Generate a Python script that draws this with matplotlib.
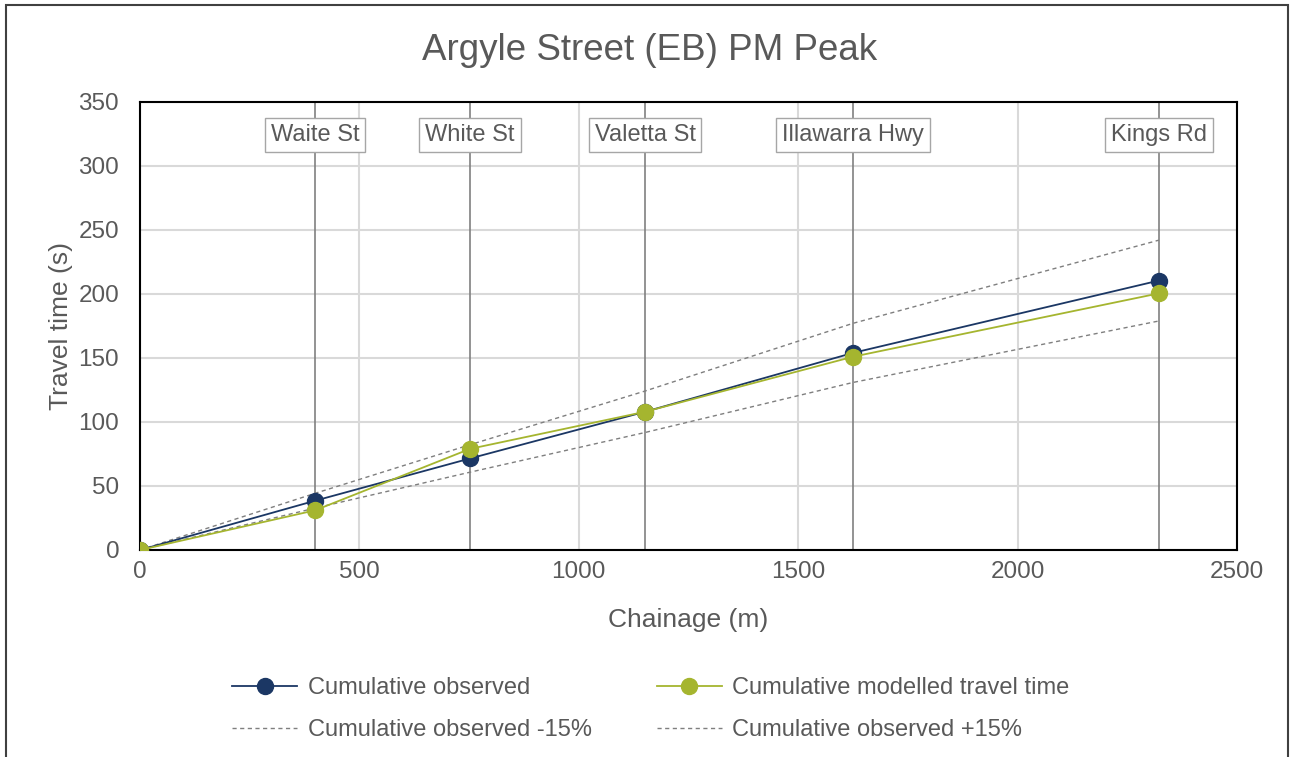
import matplotlib
matplotlib.use("Agg")
import matplotlib.pyplot as plt
from matplotlib.patches import Rectangle
import numpy as np

plt.rcParams['font.family'] = ['Liberation Sans', 'DejaVu Sans']

chainage = [0, 399, 752, 1151, 1625, 2322]
observed = [0, 38.5, 71.5, 108, 154, 210.5]
modelled = [0, 31, 79, 108, 151, 200.5]
intersections = ["Waite St", "White St", "Valetta St", "Illawarra Hwy", "Kings Rd"]
intersection_x = [399, 752, 1151, 1625, 2322]
label_y = 324

obs = np.array(observed)
lower = obs * 0.85
upper = obs * 1.15

TEXT = '#595959'
NAVY = '#1b3764'
GREEN = '#a5b52f'

fig = plt.figure(figsize=(12.93, 7.57), dpi=100)
ax = fig.add_axes([140/1293, 1 - 550/757, (1237-140)/1293, (550-102)/757])

ax.set_xlim(0, 2500)
ax.set_ylim(0, 350)
ax.set_xticks(np.arange(0, 2501, 500))
ax.set_yticks(np.arange(0, 351, 50))
ax.grid(True, color='#d9d9d9', linewidth=1.5)
ax.set_axisbelow(True)
for s in ax.spines.values():
    s.set_color('black')
    s.set_linewidth(1.5)
ax.tick_params(length=0, labelsize=17.5, colors=TEXT)
ax.tick_params(axis='y', pad=15)
ax.tick_params(axis='x', pad=8)

for xv, name in zip(intersection_x, intersections):
    ax.axvline(xv, color='#808080', linewidth=1.2, zorder=1.5)
    ax.text(xv, label_y, name, ha='center', va='center', fontsize=17, color=TEXT, zorder=5,
            bbox=dict(boxstyle='square,pad=0.25', facecolor='white', edgecolor='#a6a6a6', linewidth=1))

l3, = ax.plot(chainage, lower, color='#7f7f7f', linestyle=(0, (3, 2.5)), linewidth=1, zorder=2,
              label='Cumulative observed -15%')
l4, = ax.plot(chainage, upper, color='#7f7f7f', linestyle=(0, (3, 2.5)), linewidth=1, zorder=2,
              label='Cumulative observed +15%')
l1, = ax.plot(chainage, observed, color=NAVY, marker='o', markersize=11.5, linewidth=1.3, zorder=3,
              label='Cumulative observed')
l2, = ax.plot(chainage, modelled, color=GREEN, marker='o', markersize=11.5, linewidth=1.3, zorder=4,
              label='Cumulative modelled travel time')

ax.set_xlabel('Chainage (m)', fontsize=19, color=TEXT, labelpad=18)
ax.set_ylabel('Travel time (s)', fontsize=19, color=TEXT, labelpad=4)
fig.text(650/1293, 1 - 50/757, 'Argyle Street (EB) PM Peak', ha='center', va='center', fontsize=26.5, color=TEXT)

leg = fig.legend(handles=[l1, l3, l2, l4], loc='center', bbox_to_anchor=(651/1293, 1 - 709/757),
                 ncol=2, frameon=False, fontsize=17, labelcolor=TEXT, handlelength=2.75,
                 columnspacing=2.75, handletextpad=0.45, labelspacing=0.85)

fig.patches.append(Rectangle((6/1293, -0.01), (1288-6)/1293, 1 - 5/757 + 0.01, transform=fig.transFigure,
                             fill=False, edgecolor='#404040', linewidth=1.5))

fig.savefig('out.png', dpi=100)
